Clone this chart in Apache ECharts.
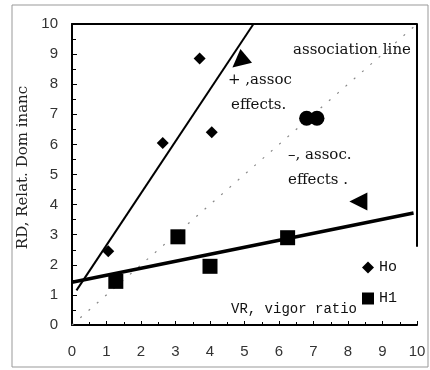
<!DOCTYPE html>
<html>
<head>
<meta charset="utf-8">
<script src="https://cdn.jsdelivr.net/npm/echarts@6/dist/echarts.min.js"></script>
<style>
  html, body { margin: 0; padding: 0; background: #fff; }
  #chart { width: 430px; height: 370px; }
</style>
</head>
<body>
<div id="chart"></div>
<script>
// values
const hoPoints = [[1.05, 2.45], [2.63, 6.05], [3.7, 8.85], [4.05, 6.4]]
const h1Points = [[1.27, 1.45], [3.07, 2.93], [4.0, 1.95], [6.25, 2.9]]
const trianglePoints = [[4.85, 8.75], [8.3, 4.1]]
const triangleRotate = [130, 90]
const circlePoints = [[6.8, 6.87], [7.1, 6.87]]
const hoLine = [[0.13, 1.15], [5.26, 10]]
const h1Line = [[0, 1.42], [9.9, 3.72]]
const assocLine = [[0, 0], [10, 10]]
const xTicks = [0, 1, 2, 3, 4, 5, 6, 7, 8, 9, 10]

const chart = echarts.init(document.getElementById('chart'))
const serif = '"DejaVu Serif", serif'
const mono = '"Liberation Mono", monospace'
const sans = '"Liberation Sans", sans-serif'
const black = { color: '#000', opacity: 1 }

const option = {
  animation: false,
  grid: { left: 72, right: 13, top: 24, bottom: 45 },
  legend: {
    orient: 'vertical',
    left: 357,
    top: 255,
    itemGap: 16,
    itemWidth: 12,
    itemHeight: 12,
    textStyle: { fontFamily: mono, fontSize: 15, color: '#111' },
    data: [
      { name: 'Ho', icon: 'diamond' },
      { name: 'H1', icon: 'rect' }
    ]
  },
  xAxis: [{
    type: 'value', min: 0, max: 10, interval: 1,
    axisLine: { lineStyle: { color: '#000', width: 2 } },
    axisTick: { inside: true, length: 4, lineStyle: { color: '#000' } },
    minorTick: { show: true, splitNumber: 2, length: 3, lineStyle: { color: '#000' } },
    splitLine: { show: false },
    axisLabel: {
      margin: 19, fontSize: 15, color: '#333', fontFamily: sans,
      formatter: v => xTicks.includes(v) ? String(v) : ''
    }
  }, {
    type: 'value', min: 0, max: 10, position: 'top',
    axisLine: { show: true, onZero: false, lineStyle: { color: '#000', width: 2 } },
    axisTick: { show: false }, axisLabel: { show: false }, splitLine: { show: false }
  }],
  yAxis: {
    type: 'value', min: 0, max: 10, interval: 1,
    name: 'RD, Relat. Dom inanc',
    nameLocation: 'middle',
    nameGap: 27,
    nameTextStyle: { fontFamily: serif, fontSize: 15, color: '#222', padding: [0, 0, 0, 14] },
    axisLine: { lineStyle: { color: '#000', width: 2 } },
    axisTick: { inside: true, length: 5, lineStyle: { color: '#000' } },
    minorTick: { show: true, splitNumber: 2, length: 4, lineStyle: { color: '#000' } },
    splitLine: { show: false },
    axisLabel: { margin: 14, fontSize: 15, color: '#333', fontFamily: sans }
  },
  series: [
    {
      name: 'assoc', type: 'line', data: assocLine, symbol: 'none',
      lineStyle: { color: '#888', width: 1.2, type: [2, 9] }, z: 1
    },
    {
      name: 'HoLine', type: 'line', data: hoLine, symbol: 'none',
      lineStyle: { color: '#000', width: 2 }
    },
    {
      name: 'H1Line', type: 'line', data: h1Line, symbol: 'none',
      lineStyle: { color: '#000', width: 3.5 }
    },
    {
      name: 'Ho', type: 'scatter', data: hoPoints, symbol: 'diamond', symbolSize: 12,
      itemStyle: black, z: 5
    },
    {
      name: 'H1', type: 'scatter', data: h1Points, symbol: 'rect', symbolSize: 15,
      itemStyle: black, z: 5
    },
    {
      name: 'tri', type: 'scatter', symbol: 'triangle', symbolSize: 18,
      data: trianglePoints.map((p, i) => ({ value: p, symbolRotate: triangleRotate[i] })),
      itemStyle: black, z: 5
    },
    {
      name: 'circ', type: 'scatter', data: circlePoints, symbol: 'circle', symbolSize: 15,
      itemStyle: black, z: 5
    }
  ]
}

chart.setOption(option)

// frame and annotations; right frame line only runs partway down, like the original
const topRight = chart.convertToPixel({ gridIndex: 0 }, [10, 10])
const midRight = chart.convertToPixel({ gridIndex: 0 }, [10, 2.6])
const note = (text, x, y) => ({
  type: 'text', left: x, top: y,
  style: { text, font: '15px ' + serif, fill: '#111' }
})
chart.setOption({
  graphic: [
    note('association line', 293, 43),
    note('+ ,assoc', 228, 73),
    note('effects.', 231, 98),
    note('\u2013, assoc.', 288, 148),
    note('effects .', 288, 173),
    { type: 'text', left: 231, top: 302, style: { text: 'VR, vigor ratio', font: '14px ' + mono, fill: '#111' } },
    { type: 'rect', shape: { x: 12, y: 5, width: 416, height: 362 }, style: { fill: 'none', stroke: '#999', lineWidth: 1 }, z: 0 },
    {
      type: 'line',
      shape: { x1: topRight[0], y1: topRight[1], x2: midRight[0], y2: midRight[1] },
      style: { stroke: '#000', lineWidth: 2 }
    }
  ]
})
</script>
</body>
</html>
